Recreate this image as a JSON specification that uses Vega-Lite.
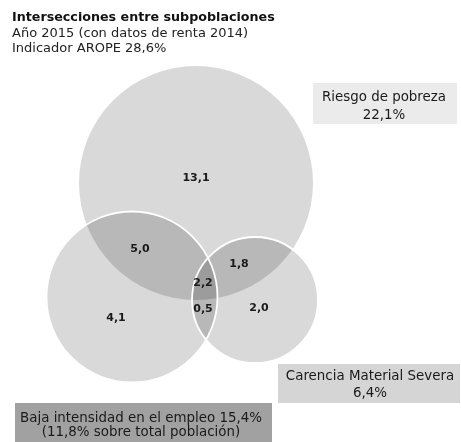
{
  "$schema": "https://vega.github.io/schema/vega-lite/v6.json",
  "width": 461,
  "height": 442,
  "padding": 0,
  "autosize": {"type": "none"},
  "background": "#ffffff",
  "config": {"view": {"stroke": null}},
  "datasets": {
    "circles": [
      {"name": "Riesgo de pobreza", "cx": 196, "cy": 183, "pct": 22.1},
      {"name": "Baja intensidad en el empleo", "cx": 132, "cy": 297, "pct": 11.8},
      {"name": "Carencia Material Severa", "cx": 255, "cy": 300, "pct": 6.4}
    ],
    "regions": [
      {"label": "13,1", "cx": 196, "cy": 178},
      {"label": "5,0", "cx": 140, "cy": 249},
      {"label": "4,1", "cx": 116, "cy": 318},
      {"label": "2,2", "cx": 203, "cy": 283},
      {"label": "0,5", "cx": 203, "cy": 309},
      {"label": "1,8", "cx": 239, "cy": 264},
      {"label": "2,0", "cx": 259, "cy": 308}
    ],
    "boxes": [
      {"name": "Riesgo de pobreza", "x1": 313, "x2": 457, "y1": 83, "y2": 124},
      {"name": "Carencia Material Severa", "x1": 278, "x2": 460, "y1": 364, "y2": 403},
      {"name": "Baja intensidad en el empleo", "x1": 15, "x2": 272, "y1": 403, "y2": 442}
    ],
    "boxtext": [
      {"line": "Riesgo de pobreza", "cx": 384, "cy": 100.5},
      {"line": "22,1%", "cx": 384, "cy": 118.5},
      {"line": "Carencia Material Severa", "cx": 370, "cy": 380},
      {"line": "6,4%", "cx": 370, "cy": 397},
      {"line": "Baja intensidad en el empleo 15,4%", "cx": 141, "cy": 421.5},
      {"line": "(11,8% sobre total población)", "cx": 141, "cy": 436}
    ],
    "titles": [
      {"line": "Intersecciones entre subpoblaciones", "cx": 12, "cy": 20.5, "kind": "title"}
    ],
    "subtitles": [
      {"line": "Año 2015 (con datos de renta 2014)", "cx": 12, "cy": 36.5},
      {"line": "Indicador AROPE 28,6%", "cx": 12, "cy": 51.5}
    ]
  },
  "encoding": {
    "x": {"field": "cx", "type": "quantitative", "scale": {"domain": [0, 461], "nice": false, "zero": false}, "axis": null},
    "y": {"field": "cy", "type": "quantitative", "scale": {"domain": [0, 442], "nice": false, "zero": false, "reverse": true}, "axis": null}
  },
  "layer": [
    {
      "data": {"name": "boxes"},
      "mark": {"type": "rect"},
      "encoding": {
        "x": {"field": "x1", "type": "quantitative"},
        "x2": {"field": "x2"},
        "y": {"field": "y1", "type": "quantitative"},
        "y2": {"field": "y2"},
        "color": {"field": "name", "type": "nominal", "legend": null,
          "scale": {"domain": ["Riesgo de pobreza", "Carencia Material Severa", "Baja intensidad en el empleo"], "range": ["#ebebeb", "#d5d5d5", "#a1a1a1"]}}
      }
    },
    {
      "data": {"name": "circles"},
      "mark": {"type": "point", "shape": "circle", "filled": true, "opacity": 1, "color": "#d9d9d9", "blend": "multiply", "strokeWidth": 0},
      "encoding": {
        "size": {"field": "pct", "type": "quantitative", "legend": null, "scale": {"type": "linear", "domain": [0, 22.1], "range": [0, 54756], "zero": true}}
      }
    },
    {
      "data": {"name": "circles"},
      "transform": [{"filter": "datum.name !== 'Riesgo de pobreza'"}],
      "mark": {"type": "point", "shape": "circle", "filled": false, "stroke": "#ffffff", "strokeWidth": 1.8, "opacity": 1},
      "encoding": {
        "size": {"field": "pct", "type": "quantitative", "legend": null, "scale": {"type": "linear", "domain": [0, 22.1], "range": [0, 54756], "zero": true}}
      }
    },
    {
      "data": {"name": "regions"},
      "mark": {"type": "text", "font": "DejaVu Sans", "fontWeight": "bold", "fontSize": 11, "color": "#1a1a1a", "align": "center", "baseline": "middle"},
      "encoding": {"text": {"field": "label", "type": "nominal"}}
    },
    {
      "data": {"name": "boxtext"},
      "mark": {"type": "text", "font": "DejaVu Sans", "fontSize": 13.4, "color": "#1a1a1a", "align": "center", "baseline": "alphabetic"},
      "encoding": {"text": {"field": "line", "type": "nominal"}}
    },
    {
      "data": {"name": "titles"},
      "mark": {"type": "text", "font": "DejaVu Sans", "fontWeight": "bold", "fontSize": 12.7, "color": "#111111", "align": "left", "baseline": "alphabetic"},
      "encoding": {"text": {"field": "line", "type": "nominal"}}
    },
    {
      "data": {"name": "subtitles"},
      "mark": {"type": "text", "font": "DejaVu Sans", "fontSize": 13, "color": "#222222", "align": "left", "baseline": "alphabetic"},
      "encoding": {"text": {"field": "line", "type": "nominal"}}
    }
  ]
}
